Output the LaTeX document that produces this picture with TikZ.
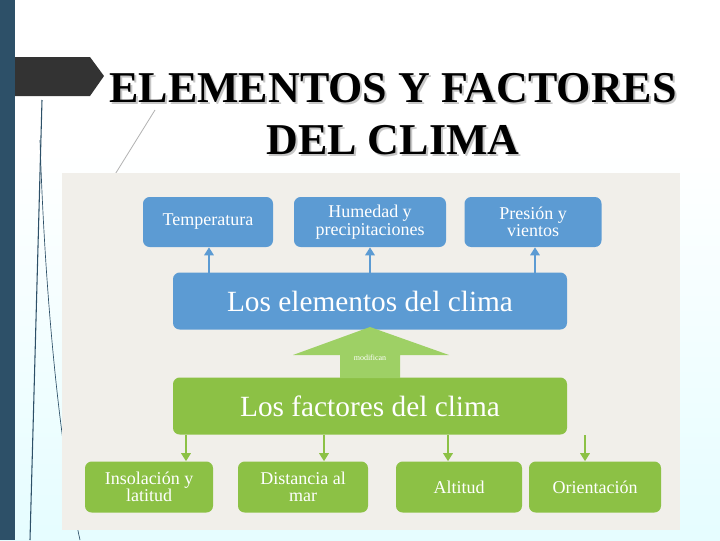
\documentclass[tikz,border=0pt]{standalone}
\usepackage{fontspec}
\setmainfont{Liberation Serif}
\usetikzlibrary{arrows.meta}
\definecolor{bbox}{HTML}{5C9BD3}
\definecolor{gbox}{HTML}{8CC145}
\definecolor{garrow}{HTML}{9ED065}
\definecolor{panel}{HTML}{F1EFEA}
\definecolor{sidebar}{HTML}{2D5068}
\tikzset{
 box/.style={rounded corners=5pt,draw=none,text=white,align=center,inner sep=0pt,font=\fontsize{13.5}{13}\selectfont},
 bsmall/.style={box,fill=bbox},
 gsmall/.style={box,fill=gbox},
 bar/.style={-{Triangle[width=7pt,length=6pt]},line width=1.6pt},
 ttl/.style={font=\fontsize{33}{33}\bfseries\selectfont,inner sep=0pt},
}
\begin{document}
\begin{tikzpicture}[x={(0.75pt,0)},y={(0,-0.75pt)}]
\useasboundingbox (0,0) rectangle (720,540);
\fill[white] (0,0) rectangle (720,540);
\shade[top color=white,bottom color=blue!8!cyan!10] (0,150) rectangle (720,540);
\fill[sidebar] (0,0) rectangle (15,540);
\draw[sidebar,line width=0.8pt] (42,100) -- (30,540);
\draw[sidebar,line width=0.5pt] (40,140) .. controls (45,300) and (60,450) .. (80,540);
\draw[gray!60,line width=0.6pt] (155,110) -- (114,176);
\fill[black!80] (15,57) -- (90,57) -- (104,76) -- (90,96) -- (15,96) -- cycle;
\node[ttl,text=gray!45] (t1s) at (395,90) {ELEMENTOS Y FACTORES};
\node[ttl,text=gray!45] (t2s) at (395,142) {DEL CLIMA};
\node[ttl] (t1) at (393,88) {ELEMENTOS Y FACTORES};
\node[ttl] (t2) at (393,140) {DEL CLIMA};
\fill[panel] (62,173) rectangle (680,530);
% blue boxes
\node[bsmall,minimum width=130*0.75pt,minimum height=50*0.75pt] (bt) at (208,222) {Temperatura};
\node[bsmall,minimum width=152*0.75pt,minimum height=50*0.75pt] (bh) at (370,222) {Humedad y\\precipitaciones};
\node[bsmall,minimum width=137*0.75pt,minimum height=50*0.75pt] (bp) at (533,222) {Presión y\\vientos};
\node[box,fill=bbox,minimum width=394*0.75pt,minimum height=57*0.75pt,font=\fontsize{22}{22}\selectfont] (E) at (370,301) {Los elementos del clima};
\foreach \n/\x in {bt/209,bh/370,bp/535}{
 \coordinate (s\n) at (\x,273);
 \draw[bar,bbox] (s\n) -- (s\n |- \n.south);
}
% green
\node[box,fill=gbox,minimum width=394*0.75pt,minimum height=57*0.75pt,font=\fontsize{22}{22}\selectfont] (F) at (370,406) {Los factores del clima};
\fill[garrow] (340,378) -- (340,355) -- (293,355) -- (370,327) -- (449,355) -- (400,355) -- (400,378) -- cycle;
\node[text=white,font=\fontsize{6}{6}\selectfont] (mod) at (370,358) {modifican};
\node[gsmall,minimum width=128*0.75pt,minimum height=51*0.75pt] (gi) at (149,487) {Insolación y\\latitud};
\node[gsmall,minimum width=130*0.75pt,minimum height=51*0.75pt] (gd) at (303,487) {Distancia al\\mar};
\node[gsmall,minimum width=126*0.75pt,minimum height=51*0.75pt] (ga) at (459,487) {Altitud};
\node[gsmall,minimum width=132*0.75pt,minimum height=51*0.75pt] (gor) at (595,487) {Orientación};
\foreach \n/\x in {gi/186,gd/324,ga/448,gor/585}{
 \coordinate (c\n) at (\x,435);
 \draw[bar,gbox] (c\n) -- (c\n |- \n.north);
}
\end{tikzpicture}
\end{document}
